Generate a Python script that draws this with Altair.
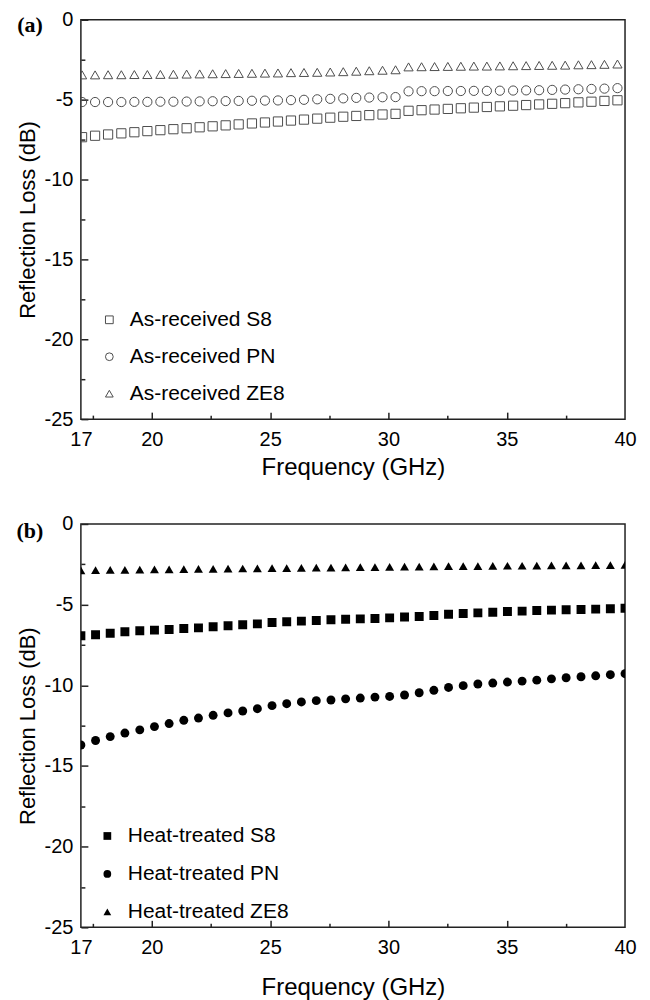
import altair as alt
import pandas as pd

# ---------------- data ----------------
freq_a = [17.05, 17.60, 18.15, 18.71, 19.26, 19.81, 20.36, 20.91, 21.47, 22.02,
          22.57, 23.12, 23.67, 24.23, 24.78, 25.33, 25.88, 26.43, 26.99, 27.54,
          28.09, 28.64, 29.19, 29.75, 30.30, 30.85, 31.40, 31.95, 32.51, 33.06,
          33.61, 34.16, 34.71, 35.27, 35.82, 36.37, 36.92, 37.47, 38.03, 38.58,
          39.13, 39.68]
s8_a = [-7.35, -7.26, -7.18, -7.11, -7.04, -6.97, -6.91, -6.85, -6.79, -6.73,
        -6.67, -6.61, -6.55, -6.49, -6.43, -6.37, -6.31, -6.25, -6.19, -6.13,
        -6.07, -6.02, -5.97, -5.93, -5.89, -5.70, -5.66, -5.62, -5.58, -5.54,
        -5.50, -5.46, -5.42, -5.38, -5.34, -5.30, -5.26, -5.22, -5.17, -5.13,
        -5.08, -5.04]
pn_a = [-5.15, -5.15, -5.15, -5.15, -5.14, -5.14, -5.13, -5.13, -5.12, -5.11,
        -5.10, -5.09, -5.08, -5.07, -5.06, -5.05, -5.03, -5.01, -4.98, -4.95,
        -4.92, -4.89, -4.87, -4.85, -4.84, -4.48, -4.47, -4.47, -4.46, -4.46,
        -4.45, -4.45, -4.44, -4.43, -4.42, -4.41, -4.39, -4.37, -4.35, -4.33,
        -4.31, -4.28]
ze8_a = [-3.45, -3.45, -3.44, -3.44, -3.43, -3.43, -3.42, -3.41, -3.40, -3.39,
         -3.38, -3.37, -3.36, -3.35, -3.34, -3.33, -3.31, -3.30, -3.29, -3.27,
         -3.25, -3.22, -3.19, -3.16, -3.13, -2.95, -2.94, -2.93, -2.92, -2.91,
         -2.90, -2.90, -2.89, -2.88, -2.87, -2.86, -2.85, -2.84, -2.82, -2.81,
         -2.79, -2.77]

freq_b = [17.00, 17.62, 18.24, 18.86, 19.49, 20.11, 20.73, 21.35, 21.97, 22.59,
          23.22, 23.84, 24.46, 25.08, 25.70, 26.32, 26.95, 27.57, 28.19, 28.81,
          29.43, 30.05, 30.68, 31.30, 31.92, 32.54, 33.16, 33.78, 34.41, 35.03,
          35.65, 36.27, 36.89, 37.51, 38.14, 38.76, 39.38, 40.00]
s8_b = [-6.93, -6.87, -6.77, -6.68, -6.62, -6.58, -6.54, -6.48, -6.44, -6.37,
        -6.31, -6.25, -6.19, -6.11, -6.06, -6.02, -5.98, -5.94, -5.90, -5.88,
        -5.86, -5.82, -5.77, -5.74, -5.67, -5.59, -5.55, -5.51, -5.47, -5.43,
        -5.40, -5.36, -5.34, -5.32, -5.30, -5.28, -5.26, -5.22]
pn_b = [-13.70, -13.42, -13.18, -12.96, -12.76, -12.56, -12.37, -12.17, -12.03, -11.86,
        -11.71, -11.59, -11.45, -11.26, -11.14, -11.03, -10.95, -10.91, -10.84, -10.79,
        -10.73, -10.69, -10.60, -10.46, -10.31, -10.13, -10.02, -9.92, -9.86, -9.80,
        -9.74, -9.68, -9.60, -9.53, -9.47, -9.41, -9.34, -9.28]
ze8_b = [-2.87, -2.86, -2.85, -2.84, -2.83, -2.82, -2.81, -2.80, -2.79, -2.78,
         -2.77, -2.76, -2.75, -2.74, -2.73, -2.72, -2.71, -2.70, -2.69, -2.68,
         -2.67, -2.66, -2.65, -2.64, -2.63, -2.62, -2.62, -2.61, -2.60, -2.59,
         -2.59, -2.58, -2.57, -2.57, -2.56, -2.55, -2.55, -2.54]

series_a = ["As-received S8", "As-received PN", "As-received ZE8"]
series_b = ["Heat-treated S8", "Heat-treated PN", "Heat-treated ZE8"]
shapes = ["square", "circle", "triangle-up"]

x_labels = [17, 20, 25, 30, 35, 40]
x_major = [20, 25, 30, 35]
x_minor = [17.5, 22.5, 27.5, 32.5, 37.5]
y_labels = [0, -5, -10, -15, -20, -25]
y_minor = [-2.5, -7.5, -12.5, -17.5, -22.5]

FONT = "Liberation Sans"
W = 545
TICK = "#222222"
HYPHEN = "'' + datum.value"


def make_df(freq, vals_list, names):
    rows = []
    for vals, name in zip(vals_list, names):
        for f, v in zip(freq, vals):
            rows.append({"freq": f, "rl": v, "series": name})
    return pd.DataFrame(rows)


def panel(df, names, filled, tag, H, leg_x, leg_y, row_pad, title_pad, tag_y, msize, col):
    xs = alt.Scale(domain=[17, 40], nice=False, zero=False)
    ys = alt.Scale(domain=[-25, 0], nice=False, zero=False)

    legend = alt.Legend(
        orient="none", legendX=leg_x, legendY=leg_y, title=None,
        labelFont=FONT, labelFontSize=21, labelColor="black", labelLimit=400,
        symbolSize=60, rowPadding=row_pad, labelOffset=10, padding=0,
        symbolStrokeWidth=1, symbolStrokeColor=col,
        symbolFillColor=(col if filled else "transparent"),
    )

    pts = alt.Chart(df).mark_point(
        filled=filled, clip=True, color=col, strokeWidth=1, opacity=1, size=msize
    ).encode(
        x=alt.X("freq:Q", scale=xs, title="Frequency (GHz)",
                axis=alt.Axis(orient="bottom", values=x_labels, ticks=False, tickSize=0,
                              domain=False, grid=False, labelFontSize=20,
                              labelPadding=10, titleFontSize=24, titlePadding=title_pad,
                              labelFlush=False)),
        y=alt.Y("rl:Q", scale=ys, title="Reflection Loss (dB)",
                axis=alt.Axis(orient="left", values=y_labels, ticks=False, tickSize=0,
                              domain=False, grid=False, labelFontSize=20,
                              labelExpr=HYPHEN,
                              labelPadding=8, titleFontSize=22, titlePadding=5)),
        shape=alt.Shape("series:N", scale=alt.Scale(domain=names, range=shapes),
                        legend=legend),
    )

    def tick_layer(xv, yv, ln):
        return alt.Chart(df).mark_point(opacity=0).encode(
            x=alt.X("freq:Q", scale=xs, title=None,
                    axis=alt.Axis(orient="top", offset=-H, values=xv, tickSize=ln,
                                  tickWidth=1.5, tickColor=TICK, labels=False,
                                  domain=False, grid=False)),
            y=alt.Y("rl:Q", scale=ys, title=None,
                    axis=alt.Axis(orient="right", offset=-W, values=yv, tickSize=ln,
                                  tickWidth=1.5, tickColor=TICK, labels=False,
                                  domain=False, grid=False)),
        )

    tag_chart = alt.Chart(pd.DataFrame({"t": [tag]})).mark_text(
        font="Liberation Serif", fontWeight="bold", fontSize=22, color="black",
        align="center", baseline="middle"
    ).encode(x=alt.value(-51), y=alt.value(tag_y), text="t:N")

    return alt.layer(
        tick_layer(x_minor, y_minor, 4),
        tick_layer(x_major, y_labels, 7),
        pts,
        tag_chart,
    ).resolve_axis(x="independent", y="independent").properties(width=W, height=H)


df_a = make_df(freq_a, [s8_a, pn_a, ze8_a], series_a)
df_b = make_df(freq_b, [s8_b, pn_b, ze8_b], series_b)

top = panel(df_a, series_a, False, "(a)", 400, 18, 290, 15, 6, 5, 85, "#4d4d4d")
bottom = panel(df_b, series_b, True, "(b)", 404, 16, 302, 16, 18, 7, 80, "black")

chart = alt.vconcat(top, bottom, spacing=33).resolve_scale(
    shape="independent"
).resolve_legend(
    shape="independent"
).properties(
    padding={"left": 7, "top": 0, "right": 5, "bottom": 0}
).configure_view(
    stroke=TICK, strokeWidth=1.5
).configure_axis(
    labelFont=FONT, titleFont=FONT, labelColor="black", titleColor="black",
    titleFontWeight="normal", grid=False
)

chart.save("out.html", embed_options={"renderer": "svg", "actions": False})
